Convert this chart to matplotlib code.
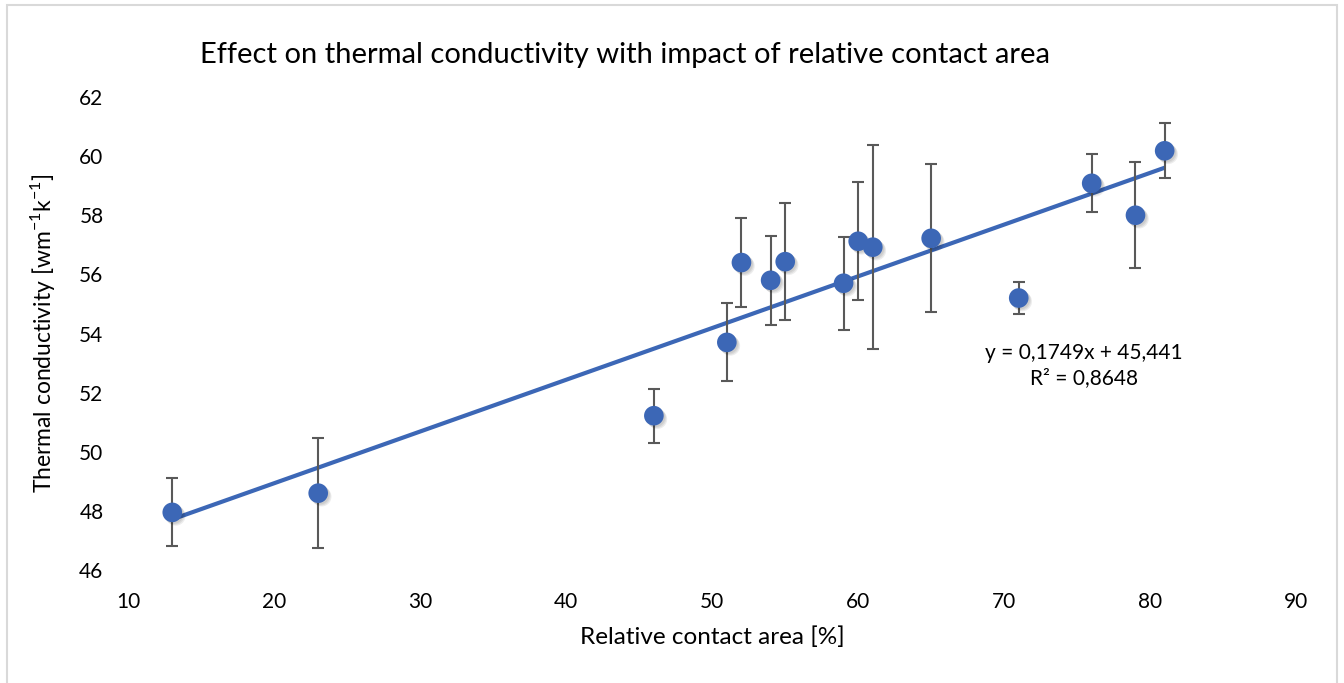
import matplotlib
matplotlib.use("Agg")
import matplotlib.pyplot as plt
import matplotlib.patheffects as pe
from matplotlib.patches import Rectangle
import numpy as np

plt.rcParams['font.family'] = ['Lato', 'DejaVu Sans']
plt.rcParams['mathtext.fontset'] = 'custom'
plt.rcParams['mathtext.rm'] = 'Lato'

# data
contact_area = [13, 23, 46, 51, 52, 54, 55, 59, 60, 61, 65, 71, 76, 79, 81]
conductivity = [47.95, 48.6, 51.22, 53.7, 56.4, 55.8, 56.43, 55.7, 57.12, 56.92, 57.22, 55.2, 59.08, 58.0, 60.18]
error = [1.15, 1.85, 0.92, 1.32, 1.52, 1.5, 1.98, 1.57, 2.0, 3.45, 2.5, 0.53, 0.98, 1.8, 0.93]

slope = 0.1749
intercept = 45.441
eq_text = "y = 0,1749x + 45,441\nR² = 0,8648"

blue = '#3C67B6'
grey = '#595959'

fig = plt.figure(figsize=(13.44, 6.83), dpi=100)
ax = fig.add_axes([0.0956, 0.1654, 0.8687, 0.6926])

# trend line
xt = np.array([min(contact_area), max(contact_area)])
ax.plot(xt, slope * xt + intercept, color=blue, lw=3, zorder=2, solid_capstyle='butt')

# error bars
ax.errorbar(contact_area, conductivity, yerr=error, fmt='none', ecolor=grey,
            elinewidth=1.5, capsize=4.5, capthick=1.5, zorder=3)

# markers with a soft shadow
shadow = [pe.SimplePatchShadow(offset=(o, -o), shadow_rgbFace='k', alpha=0.07) for o in (2.5, 1.8, 1.1)]
ax.scatter(contact_area, conductivity, s=200, color=blue, edgecolor='none', zorder=4,
           path_effects=shadow + [pe.Normal()])

ax.set_xlim(10, 90)
ax.set_ylim(46, 62)
ax.set_xticks(range(10, 91, 10))
ax.set_yticks(range(46, 63, 2))
ax.tick_params(length=0, labelsize=15, colors='#000000')
ax.tick_params(axis='x', pad=16)
ax.tick_params(axis='y', pad=18)
for s in ax.spines.values():
    s.set_visible(False)

ax.set_xlabel('Relative contact area [%]', fontsize=17.5, labelpad=10)
ax.set_ylabel(r'Thermal conductivity [wm$^{\mathregular{-1}}$k$^{\mathregular{-1}}$]', fontsize=16.5, labelpad=16)

ax.text(0.818, 0.433, eq_text, transform=ax.transAxes, ha='center', va='center',
        multialignment='center', fontsize=15, linespacing=1.3)

fig.text(625 / 1344, 1 - 55 / 683, 'Effect on thermal conductivity with impact of relative contact area',
         ha='center', va='center', fontsize=21)

# chart frame
fig.patches.append(Rectangle((7 / 1344, -0.02), 1330 / 1344, 1.02 - 5 / 683, transform=fig.transFigure,
                             fill=False, edgecolor='#D9D9D9', lw=1.5))

fig.savefig('out.png', dpi=100)
